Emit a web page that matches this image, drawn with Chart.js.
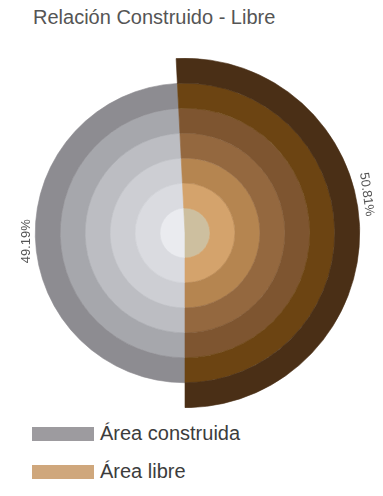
<!DOCTYPE html>
<html>
<head>
<meta charset="utf-8">
<script src="https://cdn.jsdelivr.net/npm/chart.js@4"></script>
<style>
html,body{margin:0;padding:0;background:#fff;width:383px;height:496px;overflow:hidden;font-family:"Liberation Sans",Arial,sans-serif}
#title{position:absolute;left:33px;top:6px;font-size:20px;color:#555;white-space:nowrap;letter-spacing:0}
#wrap{position:absolute;left:0;top:58px;width:383px;height:350px}
.sw{position:absolute;left:32px;width:62px;height:14px}
.lt{position:absolute;left:100px;font-size:20px;color:#3c3c3c;white-space:nowrap;line-height:20px}
</style>
</head>
<body>
<div id="title">Relación Construido - Libre</div>
<div id="wrap"><canvas id="c"></canvas></div>
<div class="sw" id="sw0" style="top:427px"></div><div class="lt" id="lt0" style="top:423px"></div>
<div class="sw" id="sw1" style="top:465px"></div><div class="lt" id="lt1" style="top:461px"></div>
<script>
// ---- data ----
const categories = ['Área construida', 'Área libre'];
const values = [49.19, 50.81];
const percentLabels = ['49.19%', '50.81%'];

// ---- styles (outer ring -> inner ring) ----
const greyShades  = ['rgba(0,0,0,0)', '#8d8c91', '#a6a7ac', '#bcbdc2', '#cdced3', '#dadbe0', '#eaebef'];
const brownShades = ['#4a2f16', '#6c4412', '#7e5530', '#94683f', '#b58550', '#d4a36c', '#cdbf9f'];
const legendColors = ['#9d9b9f', '#cfa77c'];

document.getElementById('sw0').style.background = legendColors[0];
document.getElementById('sw1').style.background = legendColors[1];
document.getElementById('lt0').textContent = categories[0];
document.getElementById('lt1').textContent = categories[1];

const datasets = greyShades.map((g, i) => ({
  data: values.slice(),
  backgroundColor: [g, brownShades[i]],
  borderColor: [g, brownShades[i]],
  borderWidth: 0.6,
  hoverOffset: 0
}));

const pctPlugin = {
  id: 'pct',
  afterDatasetsDraw(chart) {
    const outer = chart.getDatasetMeta(0).data[1];
    const greyRing = chart.getDatasetMeta(1).data[0];
    const cx = outer.x, cy = outer.y;
    const ctx = chart.ctx;
    const items = [
      {text: percentLabels[0], r: greyRing.outerRadius + 9, ang: 267, rot: -90},
      {text: percentLabels[1], r: outer.outerRadius + 11, ang: 78, rot: 82}
    ];
    ctx.save();
    ctx.font = '13px "Liberation Sans", Arial, sans-serif';
    ctx.fillStyle = '#555';
    ctx.textAlign = 'center';
    ctx.textBaseline = 'middle';
    items.forEach(it => {
      const a = it.ang * Math.PI / 180;
      const x = cx + it.r * Math.sin(a), y = cy - it.r * Math.cos(a);
      ctx.save();
      ctx.translate(x, y);
      ctx.rotate(it.rot * Math.PI / 180);
      ctx.fillText(it.text, 0, 0);
      ctx.restore();
    });
    ctx.restore();
  }
};

new Chart(document.getElementById('c'), {
  type: 'doughnut',
  data: { labels: categories, datasets },
  options: {
    responsive: true,
    maintainAspectRatio: false,
    animation: false,
    cutout: 0,
    rotation: 180,
    layout: { padding: { left: 10, right: 23, top: 0, bottom: 0 } },
    plugins: { legend: { display: false }, tooltip: { enabled: false }, title: { display: false } },
    events: []
  },
  plugins: [pctPlugin]
});
</script>
</body>
</html>
